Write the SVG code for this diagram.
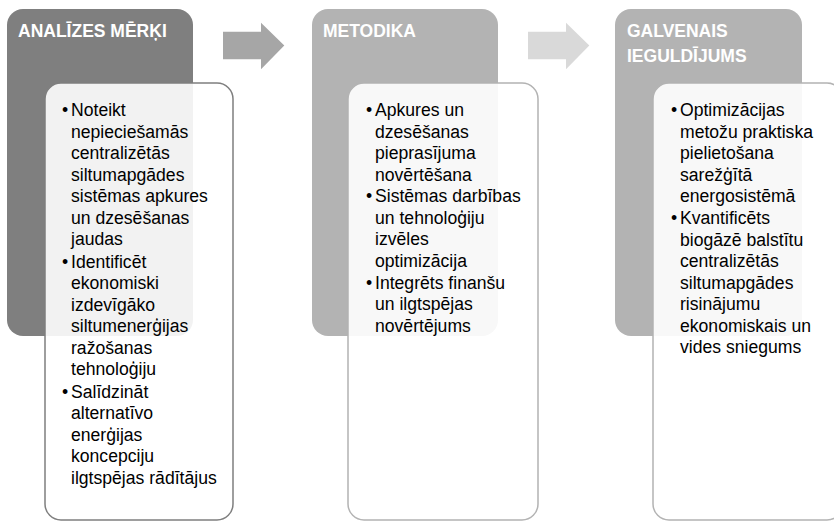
<svg xmlns="http://www.w3.org/2000/svg" width="834" height="522" viewBox="0 0 834 522">
<style>
.hd{font-family:"Liberation Sans",Arial,sans-serif;font-weight:bold;font-size:17.5px;fill:#ffffff}
.tx{font-family:"Liberation Sans",Arial,sans-serif;font-size:17.6px;fill:#000000}
.card{fill:#ffffff;fill-opacity:0.9;stroke-width:1.5}
</style>
<rect width="834" height="522" fill="#ffffff"/>
<g id="connectors">
<path d="M223,31.7 H261 V22.7 L284.3,45.5 L261,69.3 V59.3 H223 Z" fill="#a6a6a6"/>
<path d="M528,31.7 H566 V22.7 L589.3,45.5 L566,69.3 V59.3 H528 Z" fill="#d9d9d9"/>
</g>
<g id="node-analizes">
<rect x="7" y="9" width="186" height="327" rx="16" fill="#7f7f7f"/>
<text class="hd" x="18" y="37">ANALĪZES MĒRĶI</text>
<rect class="card" x="45" y="83" width="188" height="437" rx="16" stroke="#7f7f7f"/>
<g class="tx">
<text x="62" y="116">•</text>
<text x="71" y="116">Noteikt</text>
<text x="71" y="137.5">nepieciešamās</text>
<text x="71" y="159">centralizētās</text>
<text x="71" y="180.5">siltumapgādes</text>
<text x="71" y="202">sistēmas apkures</text>
<text x="71" y="223.5">un dzesēšanas</text>
<text x="71" y="245">jaudas</text>
<text x="62" y="267.5">•</text>
<text x="71" y="267.5">Identificēt</text>
<text x="71" y="289">ekonomiski</text>
<text x="71" y="310.5">izdevīgāko</text>
<text x="71" y="332">siltumenerģijas</text>
<text x="71" y="353.5">ražošanas</text>
<text x="71" y="375">tehnoloģiju</text>
<text x="62" y="397.5">•</text>
<text x="71" y="397.5">Salīdzināt</text>
<text x="71" y="419">alternatīvo</text>
<text x="71" y="440.5">enerģijas</text>
<text x="71" y="462">koncepciju</text>
<text x="71" y="483.5">ilgtspējas rādītājus</text>
</g>
</g>
<g id="node-metodika">
<rect x="312" y="9" width="186" height="327" rx="16" fill="#b3b3b3"/>
<text class="hd" x="323" y="37">METODIKA</text>
<rect class="card" x="348" y="83" width="190" height="437" rx="16" stroke="#b3b3b3"/>
<g class="tx">
<text x="366" y="116">•</text>
<text x="375" y="116">Apkures un</text>
<text x="375" y="137.5">dzesēšanas</text>
<text x="375" y="159">pieprasījuma</text>
<text x="375" y="180.5">novērtēšana</text>
<text x="366" y="202">•</text>
<text x="375" y="202">Sistēmas darbības</text>
<text x="375" y="223.5">un tehnoloģiju</text>
<text x="375" y="245">izvēles</text>
<text x="375" y="266.5">optimizācija</text>
<text x="366" y="288.5">•</text>
<text x="375" y="288.5">Integrēts finanšu</text>
<text x="375" y="310">un ilgtspējas</text>
<text x="375" y="331.5">novērtējums</text>
</g>
</g>
<g id="node-ieguldijums">
<rect x="615" y="9" width="187" height="327" rx="16" fill="#b3b3b3"/>
<text class="hd" x="627" y="37">GALVENAIS</text>
<text class="hd" x="627" y="61.5">IEGULDĪJUMS</text>
<rect class="card" x="653" y="83" width="190" height="437" rx="16" stroke="#b3b3b3"/>
<g class="tx">
<text x="671" y="116">•</text>
<text x="680" y="116">Optimizācijas</text>
<text x="680" y="137.5">metožu praktiska</text>
<text x="680" y="159">pielietošana</text>
<text x="680" y="180.5">sarežģītā</text>
<text x="680" y="202">energosistēmā</text>
<text x="671" y="224">•</text>
<text x="680" y="224">Kvantificēts</text>
<text x="680" y="245.5">biogāzē balstītu</text>
<text x="680" y="267">centralizētās</text>
<text x="680" y="288.5">siltumapgādes</text>
<text x="680" y="310">risinājumu</text>
<text x="680" y="331.5">ekonomiskais un</text>
<text x="680" y="353">vides sniegums</text>
</g>
</g>
</svg>
